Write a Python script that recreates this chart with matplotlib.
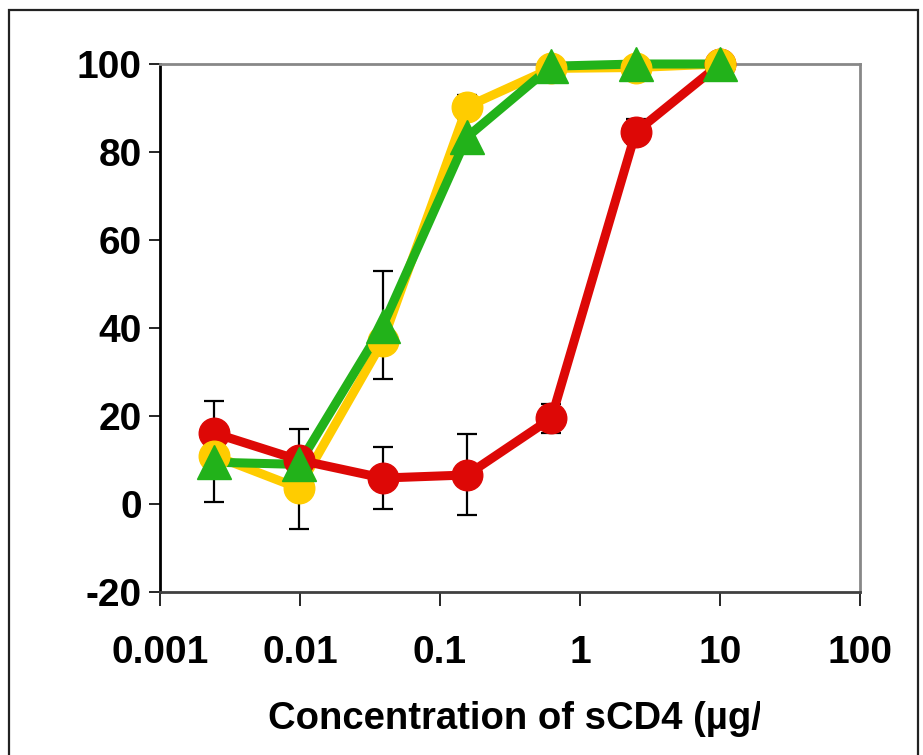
# sCD4 neutralisation curves
import matplotlib
matplotlib.use('Agg')
import numpy as np
import matplotlib.pyplot as plt
from matplotlib.patches import Rectangle

matplotlib.rcParams["font.family"] = ["Liberation Sans", "DejaVu Sans"]
matplotlib.rcParams["font.weight"] = "bold"
matplotlib.rcParams["axes.unicode_minus"] = False

# ---------------------------------------------------------------
# data
# ---------------------------------------------------------------
conc = [0.00244, 0.0098, 0.039, 0.156, 0.625, 2.5, 10]

red    = [16.1, 10.0, 5.9, 6.6, 19.5, 84.5, 100.0]
yellow = [11.0, 3.6, 37.0, 90.3, 99.0, 99.2, 100.0]
green  = [9.5, 9.0, 40.5, 83.4, 99.5, 100.0, 100.0]

# error bars (position, low end, high end)
err_x    = [0.00244, 0.0098, 0.039, 0.039, 0.156, 0.625, 2.5, 0.156]
err_low  = [0.5, -5.7, 28.4, -1.1, -2.5, 16.1, 81.8, 87.6]
err_high = [23.3, 17.0, 53.0, 13.0, 15.9, 22.8, 87.4, 93.0]

x_ticks = [0.001, 0.01, 0.1, 1, 10, 100]
x_tick_labels = ["0.001", "0.01", "0.1", "1", "10", "100"]
y_ticks = [-20, 0, 20, 40, 60, 80, 100]

c_red    = "#DD0806"
c_yellow = "#FFCC00"
c_green  = "#22B21A"

# ---------------------------------------------------------------
fig = plt.figure(figsize=(9.23, 7.55), dpi=100)
ax = fig.add_axes([160/923, 1-592/755, 700/923, 528/755])

err_mid = (np.array(err_low) + np.array(err_high)) / 2
err_half = (np.array(err_high) - np.array(err_low)) / 2
ax.errorbar(err_x, err_mid, yerr=err_half, fmt='none', ecolor='black',
            elinewidth=1.6, capsize=7, capthick=1.6, zorder=1, clip_on=False)

# lines first, then markers on top
ax.plot(conc, yellow, color=c_yellow, lw=6.5, zorder=2, clip_on=False)
ax.plot(conc, red, color=c_red, lw=6.5, zorder=2.5, clip_on=False)
ax.plot(conc, green, color=c_green, lw=6.5, zorder=3, clip_on=False)

ax.plot(conc, red, ls='none', marker='o', ms=22, color=c_red,
        zorder=4, clip_on=False)
ax.plot(conc, yellow, ls='none', marker='o', ms=22, color=c_yellow,
        zorder=5, clip_on=False)
ax.plot(conc, green, ls='none', marker='^', ms=25, color=c_green,
        zorder=6, clip_on=False)

ax.set_xscale('log')
ax.set_xlim(0.001, 100)
ax.set_ylim(-20, 100)
ax.set_xticks(x_ticks)
ax.set_xticklabels(x_tick_labels)
ax.minorticks_off()
ax.set_yticks(y_ticks)

ax.tick_params(axis='x', direction='out', length=10, width=1.2,
               pad=21, labelsize=28)
ax.tick_params(axis='y', direction='out', length=8, width=1.2,
               pad=5, labelsize=28)
for t in ax.get_xticklabels() + ax.get_yticklabels():
    t.set_fontweight('bold')

ax.spines['left'].set_color('black')
ax.spines['bottom'].set_color('#404040')
ax.spines['top'].set_color('#888888')
ax.spines['right'].set_color('#888888')
for s in ax.spines.values():
    s.set_linewidth(2)

# x label, cut off on the right like the original
lab = fig.text(268/923, 26/755, "Concentration of sCD4 (µg/ml)",
               ha='left', va='baseline', fontsize=27.5, fontweight='bold')
clip = Rectangle((0, 0), 760/923, 1, transform=fig.transFigure)
lab.set_clip_path(clip)

# outer frame
fig.patches.append(Rectangle((9/923, -0.05), 909/923, 1.05 - 10/755,
                             transform=fig.transFigure, fill=False,
                             edgecolor='#222222', lw=1.6))

plt.savefig('out.png', dpi=100)
